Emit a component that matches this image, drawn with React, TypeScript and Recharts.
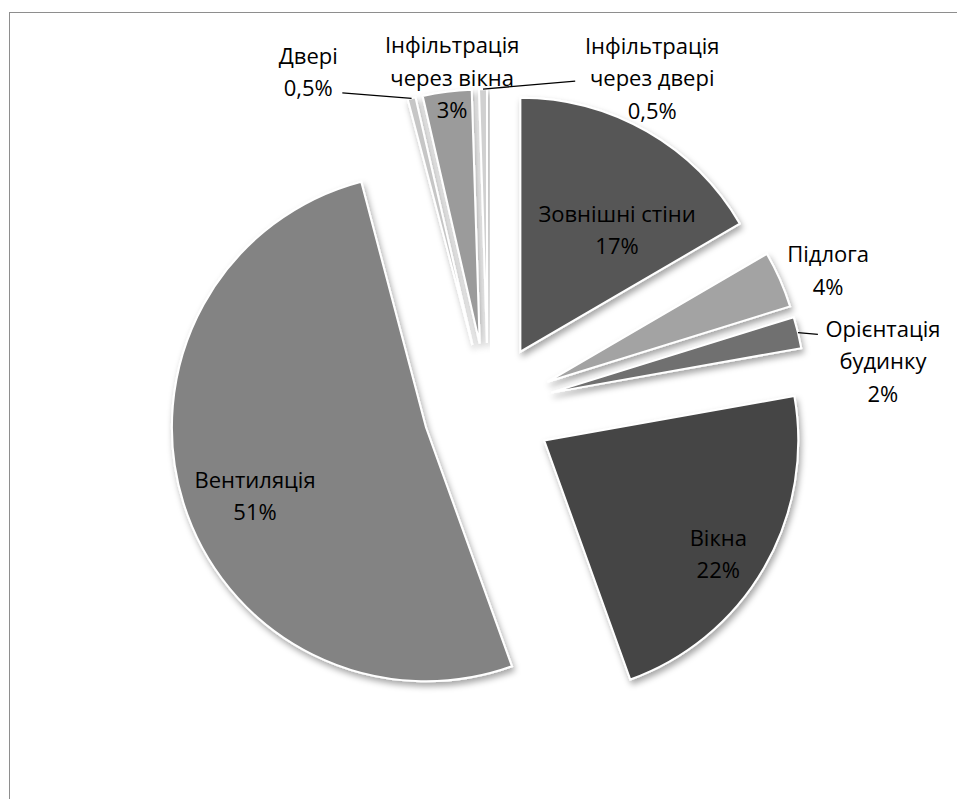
import React from 'react';
import { PieChart, Pie, Sector, Cell } from 'recharts';

const categories = [
  'Зовнішні стіни',
  'Підлога',
  'Орієнтація будинку',
  'Вікна',
  'Вентиляція',
  'Двері',
  'Інфільтрація через вікна',
  'Інфільтрація через двері',
];
// slice sizes (labels show the rounded values)
const shares = [16.6, 3.6, 2.0, 22.3, 51.4, 0.5, 3.1, 0.5];
const colors = ['#575757', '#a3a3a3', '#6f6f6f', '#454545', '#838383', '#c6c6c6', '#9b9b9b', '#d0d0d0'];

const data = categories.map((name, i) => ({ name, value: shares[i] }));

const RAD = Math.PI / 180;
const EXPLODE = 65;

// label placement: r = fraction of outer radius, turn = clockwise degrees from slice middle
const labelLayout: any[] = [
  { r: 0.869, turn: 5.9 },
  { r: 1.446, turn: 1.6 },
  { r: 1.566, turn: 6.8, wrap: true, leader: { turn: 0, dx: -65, dy: -26 } },
  { r: 1.071, turn: 2.1 },
  { r: 0.979, turn: -3.2 },
  { r: 1.504, turn: -14.2, leader: { turn: 0, dx: 34, dy: 22 } },
  { r: 1.311, turn: 1.2, wrap: true },
  { r: 1.454, turn: 27.3, wrap: true, leader: { turn: 0, dx: -77, dy: 4 } },
];

const polar = (cx: number, cy: number, r: number, angle: number) => ({
  x: cx + r * Math.cos(-angle * RAD),
  y: cy + r * Math.sin(-angle * RAD),
});

const fmt = (v: number) => (v < 1 ? String(v).replace('.', ',') : String(Math.round(v))) + '%';

const renderSlice = (props: any) => {
  const { cx, cy, midAngle } = props;
  const o = polar(0, 0, EXPLODE, midAngle);
  return <Sector {...props} cx={cx + o.x} cy={cy + o.y} filter="url(#sliceShadow)" />;
};

const renderLabel = (props: any) => {
  const { cx, cy, midAngle, outerRadius, index } = props;
  const L = labelLayout[index];
  const p = polar(cx, cy, outerRadius * L.r, midAngle - L.turn);
  const name = categories[index];
  const lines = L.wrap
    ? [name.slice(0, name.indexOf(' ')), name.slice(name.indexOf(' ') + 1)]
    : [name];
  lines.push(fmt(shares[index]));
  const lh = 32.5;
  let leader = null;
  if (L.leader) {
    const o = polar(0, 0, EXPLODE, midAngle);
    const s = polar(cx + o.x, cy + o.y, outerRadius, midAngle - L.leader.turn);
    leader = (
      <line x1={s.x} y1={s.y} x2={p.x + L.leader.dx} y2={p.y + L.leader.dy} stroke="#000" strokeWidth={1.3} />
    );
  }
  return (
    <g>
      {leader}
      <text
        x={p.x}
        y={p.y}
        textAnchor="middle"
        fill="#000"
        fontFamily="'Open Sans', sans-serif"
        fontSize={22}
      >
        {lines.map((t, k) => (
          <tspan key={k} x={p.x} y={p.y + (k - (lines.length - 1) / 2) * lh} dominantBaseline="central">
            {t}
          </tspan>
        ))}
      </text>
    </g>
  );
};

export default function App() {
  return (
    <div style={{ position: 'fixed', left: 0, top: 0, width: 957, height: 799, overflow: 'hidden', background: '#fff' }}>
      <svg width={0} height={0} style={{ position: 'absolute' }}>
        <defs>
          <filter id="sliceShadow" x="-30%" y="-30%" width="160%" height="160%">
            <feDropShadow dx={2} dy={4} stdDeviation={3} floodColor="#000" floodOpacity={0.35} />
          </filter>
        </defs>
      </svg>
      <div
        style={{
          position: 'absolute',
          left: 9,
          top: 12,
          width: 1100,
          height: 1100,
          border: '1px solid #8e8e8e',
          boxSizing: 'border-box',
        }}
      />
      <div style={{ position: 'absolute', left: 0, top: 0 }}>
        <PieChart width={957} height={799} margin={{ top: 0, right: 0, bottom: 0, left: 0 }}>
          <Pie
            data={data}
            dataKey="value"
            nameKey="name"
            cx={488}
            cy={408}
            outerRadius={254}
            startAngle={90}
            endAngle={-270}
            stroke="#fff"
            strokeWidth={2}
            isAnimationActive={false}
            labelLine={false}
            label={renderLabel}
            shape={renderSlice}
          >
            {data.map((d, i) => (
              <Cell key={d.name} fill={colors[i]} />
            ))}
          </Pie>
        </PieChart>
      </div>
    </div>
  );
}
